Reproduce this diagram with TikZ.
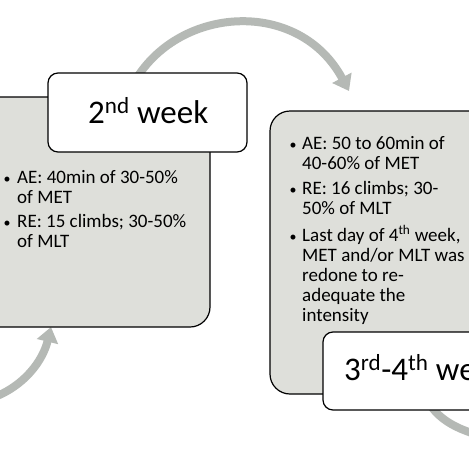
\documentclass[tikz,border=0pt]{standalone}
\usepackage{fontspec}
\setmainfont{Carlito}
\usetikzlibrary{arrows.meta}
\definecolor{boxgray}{RGB}{222,223,218}
\definecolor{arrowgray}{RGB}{181,185,181}
\tikzset{
  graybox/.style={draw=black, line width=1.2pt, fill=boxgray, rounded corners=20pt, rectangle, inner sep=0pt},
  whitebox/.style={draw=black, line width=1.2pt, fill=white, rounded corners=10pt, rectangle, inner sep=0pt},
  flow/.style={draw=arrowgray, line width=8pt, -{Triangle[width=21pt,length=15pt]}},
  body/.style={anchor=base west, inner sep=0pt, font=\fontsize{19}{20}\selectfont},
  titletext/.style={anchor=base west, inner sep=0pt, font=\fontsize{33}{36}\selectfont},
  bulletdot/.style={anchor=base, inner sep=0pt, font=\fontsize{14}{14}\selectfont}
}
\newcommand{\lines}[1]{\begin{tabular}[t]{@{}l@{}}#1\end{tabular}}
\begin{document}
\begin{tikzpicture}[x=1pt,y=-1pt]
\useasboundingbox (0,0) rectangle (469,469);
\fill[white] (0,0) rectangle (469,469);
\begin{scope}
\clip (0,0) rectangle (469,469);
% connectors
\coordinate (t0) at (138,76);
\coordinate (t1) at (349,91);
\draw[flow] (t0) .. controls (185,5) and (300,0) .. (t1);
\coordinate (b0) at (-8,398);
\coordinate (b1) at (51,327);
\draw[flow] (b0) .. controls (25,386) and (43,360) .. (b1);
\coordinate (r0) at (425,395);
\coordinate (r1) at (510,442);
\draw[flow] (r0) .. controls (435,420) and (460,432) .. (r1);
% boxes
\node[graybox, minimum width=240pt, minimum height=230pt] (leftbox) at (90,212) {};
\node[whitebox, minimum width=199pt, minimum height=79pt] (week2) at (147.5,112.5) {};
\node[graybox, minimum width=250pt, minimum height=283pt] (rightbox) at (395,252.5) {};
\node[whitebox, minimum width=197pt, minimum height=78pt] (week34) at (421.5,371) {};
% titles
\node[titletext] (w2t) at (88,123) {2\textsuperscript{nd} week};
\node[titletext] (w34t) at (344,380) {3\textsuperscript{rd}-4\textsuperscript{th} week};
% left bullets
\node[bulletdot] (lb1) at (7,183) {•};
\node[body] (lt1) at (17,183) {\lines{AE: 40min of 30-50\%\\of MET}};
\node[bulletdot] (lb2) at (7,227) {•};
\node[body] (lt2) at (17,227) {\lines{RE: 15 climbs; 30-50\%\\of MLT}};
% right bullets
\node[bulletdot] (rb1) at (293,149) {•};
\node[body] (rt1) at (302,149) {\lines{AE: 50 to 60min of\\40-60\% of MET}};
\node[bulletdot] (rb2) at (293,194) {•};
\node[body] (rt2) at (302,194) {\lines{RE: 16 climbs; 30-\\50\% of MLT}};
\node[bulletdot] (rb3) at (293,241) {•};
\node[body] (rt3) at (302,241) {\lines{Last day of 4\textsuperscript{th} week,\\MET and/or MLT was\\redone to re-\\adequate the\\intensity}};
\end{scope}
\end{tikzpicture}
\end{document}
